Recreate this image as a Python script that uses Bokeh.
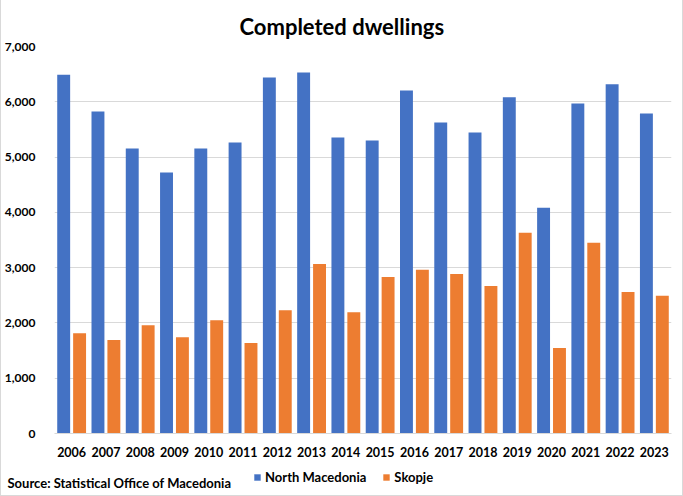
from bokeh.plotting import figure
from bokeh.models import (ColumnDataSource, FixedTicker, NumeralTickFormatter,
                          Legend, LegendItem, Range1d, FactorRange, Title, Label)
from bokeh.layouts import column
from bokeh.transform import dodge
from bokeh.embed import file_html
from bokeh.resources import INLINE

years = ["2006", "2007", "2008", "2009", "2010", "2011", "2012", "2013", "2014",
         "2015", "2016", "2017", "2018", "2019", "2020", "2021", "2022", "2023"]
north_macedonia = [6490, 5825, 5155, 4720, 5155, 5265, 6440, 6530, 5355,
                   5300, 6205, 5625, 5445, 6080, 4085, 5970, 6315, 5790]
skopje = [1815, 1690, 1960, 1740, 2050, 1635, 2230, 3065, 2195,
          2830, 2960, 2885, 2670, 3630, 1545, 3450, 2560, 2490]
y_ticks = [0, 1000, 2000, 3000, 4000, 5000, 6000, 7000]
series_names = ["North Macedonia", "Skopje"]

BLUE = "#4472C4"
ORANGE = "#ED7D31"
FONT = "Lato"

source = ColumnDataSource(dict(year=years, nm=north_macedonia, sk=skopje))

# ---------------- main chart ----------------
p = figure(width=681, height=465, x_range=FactorRange(*years),
           y_range=Range1d(0, 7000), output_backend="svg", toolbar_location=None,
           min_border_left=50, min_border_right=11, min_border_top=46,
           min_border_bottom=32, title=None)
p.frame_align = False
p.outline_line_color = None
p.background_fill_color = "white"
p.border_fill_color = "white"

r1 = p.vbar(x=dodge("year", -0.232, range=p.x_range), top="nm", width=0.377,
            source=source, fill_color=BLUE, line_color=None)
r2 = p.vbar(x=dodge("year", 0.232, range=p.x_range), top="sk", width=0.377,
            source=source, fill_color=ORANGE, line_color=None)

p.x_range.range_padding = 0

p.xgrid.grid_line_color = None
p.ygrid.grid_line_color = "#d9d9d9"
p.ygrid.grid_line_width = 1

p.yaxis.ticker = FixedTicker(ticks=y_ticks)
p.yaxis.formatter = NumeralTickFormatter(format="0,0")
p.yaxis.axis_line_color = None
p.yaxis.major_tick_line_color = None
p.yaxis.minor_tick_line_color = None
p.yaxis.major_label_text_font = FONT
p.yaxis.major_label_text_font_style = "bold"
p.yaxis.major_label_text_font_size = "12px"
p.yaxis.major_label_text_color = "black"
p.yaxis.major_label_standoff = 13

p.xaxis.axis_line_color = "#d9d9d9"
p.xaxis.axis_line_width = 1
p.xaxis.major_tick_line_color = None
p.xaxis.minor_tick_line_color = None
p.xaxis.major_label_text_font = FONT
p.xaxis.major_label_text_font_style = "bold"
p.xaxis.major_label_text_font_size = "12.5px"
p.xaxis.major_label_text_color = "black"
p.xaxis.major_label_standoff = 7

title = Title(text="Completed dwellings", align="left", offset=185,
              text_font=FONT, text_font_style="bold", text_font_size="22px",
              text_color="black", standoff=14)
p.add_layout(title, "above")

# ---------------- footer strip: source + legend ----------------
f = figure(width=681, height=30, x_range=Range1d(0, 1), y_range=Range1d(0, 1),
           output_backend="svg", toolbar_location=None, min_border=0,
           x_axis_type=None, y_axis_type=None, title=None)
f.frame_align = False
f.outline_line_color = None
f.xgrid.grid_line_color = None
f.ygrid.grid_line_color = None
f.background_fill_color = "white"
f.border_fill_color = "white"

# swatch-only renderers (a zero-height bar outside the visible range)
key_src = ColumnDataSource(dict(x=[-5], top=[0]))
k1 = f.vbar(x="x", top="top", width=0.1, source=key_src, fill_color=BLUE, line_color=None)
k2 = f.vbar(x="x", top="top", width=0.1, source=key_src, fill_color=ORANGE, line_color=None)

legend = Legend(items=[LegendItem(label=series_names[0], renderers=[k1]),
                       LegendItem(label=series_names[1], renderers=[k2])],
                orientation="horizontal", location=(252, 10),
                glyph_width=8, glyph_height=8, label_standoff=4, spacing=16,
                padding=0, margin=0, border_line_color=None,
                background_fill_alpha=0, label_text_font=FONT,
                label_text_font_style="bold", label_text_font_size="13px",
                label_text_color="black")
f.add_layout(legend, "center")

src = Label(x=6, y=13, x_units="screen", y_units="screen",
            text="Source: Statistical Office of Macedonia", text_align="left",
            text_baseline="middle", text_font=FONT, text_font_style="bold",
            text_font_size="13px", text_color="black")
f.add_layout(src)

layout = column(p, f, spacing=0,
                styles={"box-sizing": "content-box",
                        "border-left": "1px solid #d9d9d9",
                        "border-right": "1px solid #d9d9d9",
                        "border-bottom": "1px solid #d9d9d9"})
open("out.html", "w").write(file_html(layout, INLINE))
